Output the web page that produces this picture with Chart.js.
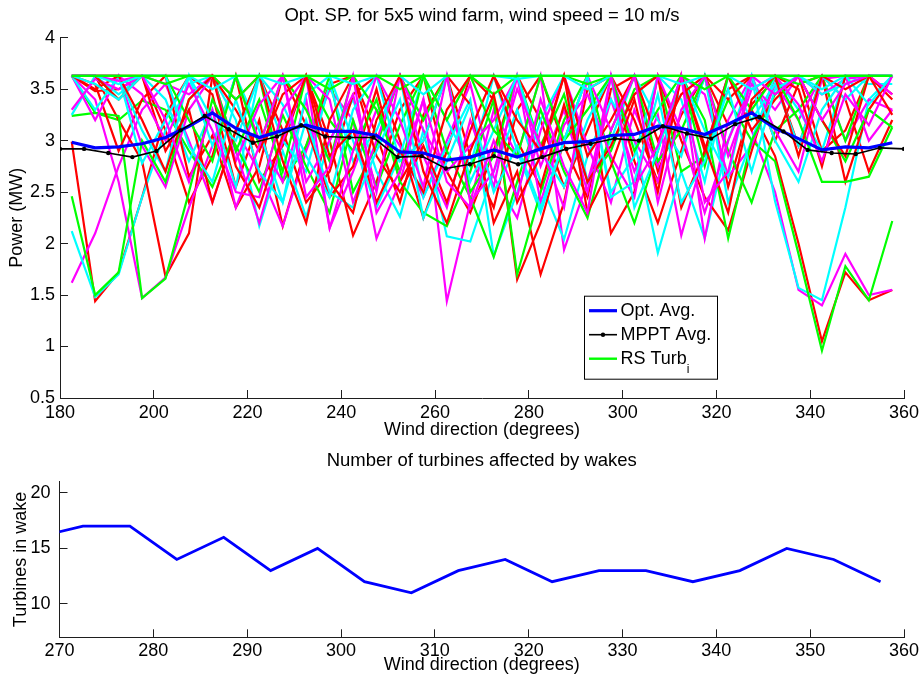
<!DOCTYPE html>
<html>
<head>
<meta charset="utf-8">
<title>Opt. SP. for 5x5 wind farm</title>
<script src="https://cdn.jsdelivr.net/npm/chart.js@4/dist/chart.umd.min.js"></script>
<style>
  html, body { margin: 0; padding: 0; background: #fff; }
  #wrap { position: relative; width: 923px; height: 683px; }
  #powerChart { position: absolute; left: 0; top: 0; }
  #wakeChart { position: absolute; left: 0; top: 440px; }
</style>
</head>
<body>
<div id="wrap">
  <canvas id="powerChart" width="923" height="440"></canvas>
  <canvas id="wakeChart" width="923" height="243"></canvas>
</div>
<script>
'use strict';

// wind directions (degrees)
const directions = [182.5, 187.5, 192.5, 197.5, 202.5, 207.5, 212.5, 217.5, 222.5, 227.5, 232.5, 237.5,
  242.5, 247.5, 252.5, 257.5, 262.5, 267.5, 272.5, 277.5, 282.5, 287.5, 292.5, 297.5,
  302.5, 307.5, 312.5, 317.5, 322.5, 327.5, 332.5, 337.5, 342.5, 347.5, 352.5, 357.5];
const mpptDirections = [180, 185.14, 190.29, 195.43, 200.57, 205.71, 210.86, 216, 221.14, 226.29, 231.43, 236.57,
  241.71, 246.86, 252, 257.14, 262.29, 267.43, 272.57, 277.71, 282.86, 288, 293.14, 298.29,
  303.43, 308.57, 313.71, 318.86, 324, 329.14, 334.29, 339.43, 344.57, 349.71, 354.86, 360];

// averages (MW)
const optAvg = [2.985, 2.93, 2.94, 2.97, 3.03, 3.14, 3.27, 3.12, 3.03, 3.10, 3.15, 3.09,
  3.09, 3.05, 2.89, 2.88, 2.81, 2.84, 2.91, 2.84, 2.92, 2.98, 2.99, 3.05,
  3.06, 3.14, 3.12, 3.06, 3.16, 3.27, 3.12, 3.02, 2.91, 2.94, 2.93, 2.98];
const mpptAvg = [2.92, 2.92, 2.88, 2.84, 2.90, 3.10, 3.24, 3.11, 2.98, 3.04, 3.15, 3.04,
  3.03, 3.03, 2.84, 2.85, 2.73, 2.77, 2.85, 2.77, 2.84, 2.92, 2.97, 3.02,
  3.00, 3.14, 3.07, 3.02, 3.16, 3.23, 3.09, 2.91, 2.88, 2.87, 2.93, 2.92];

// individual turbines (MW)
const turbR1 = [2.99, 1.44, 1.72, 2.45, 3.25, 3.63, 3.45, 2.55, 3.20, 2.17, 2.95, 3.55,
  3.63, 3.05, 2.40, 3.25, 3.63, 2.85, 2.35, 3.30, 3.63, 2.95, 2.45, 3.50,
  3.63, 2.70, 3.25, 3.63, 2.55, 3.35, 3.60, 2.95, 3.63, 3.40, 2.70, 3.20];
const turbR2 = [3.63, 3.48, 3.50, 3.63, 3.10, 2.40, 2.85, 3.63, 2.60, 2.95, 3.63, 3.00,
  2.08, 2.60, 3.30, 3.63, 2.70, 2.30, 2.90, 3.63, 3.20, 2.55, 3.10, 3.63,
  2.80, 2.20, 2.90, 3.63, 3.15, 3.30, 2.85, 2.00, 1.05, 1.72, 1.45, 1.55];
const turbR3 = [3.63, 3.63, 3.20, 2.80, 1.68, 2.10, 3.63, 3.40, 3.63, 3.10, 2.40, 2.70,
  3.45, 3.63, 3.00, 2.25, 2.90, 3.63, 3.40, 1.65, 2.20, 3.00, 3.63, 2.10,
  2.50, 3.63, 3.00, 2.45, 2.13, 2.90, 3.63, 3.63, 2.90, 3.10, 3.63, 3.45];
const turbR4 = [3.63, 3.55, 2.90, 3.40, 3.63, 2.65, 3.05, 2.35, 2.75, 3.63, 3.15, 2.45,
  2.75, 3.50, 2.60, 3.00, 3.63, 3.35, 2.20, 2.70, 1.70, 2.40, 3.50, 3.63,
  3.20, 2.60, 3.63, 2.90, 3.50, 3.63, 3.00, 3.55, 3.63, 2.60, 3.30, 3.63];
const turbR5 = [3.63, 3.63, 3.63, 3.20, 2.70, 3.40, 3.63, 2.75, 2.35, 3.05, 3.63, 2.60,
  2.30, 3.20, 3.63, 2.70, 2.20, 2.90, 3.45, 2.40, 2.85, 3.63, 2.30, 2.75,
  3.40, 2.50, 3.63, 2.95, 2.30, 3.40, 3.63, 2.85, 3.63, 3.50, 3.63, 3.25];
const turbR6 = [3.63, 3.50, 3.63, 3.63, 2.90, 3.30, 2.40, 3.10, 3.63, 2.80, 2.20, 3.20,
  3.63, 2.85, 2.50, 2.95, 2.40, 3.10, 3.63, 3.00, 2.55, 3.35, 2.60, 2.95,
  3.45, 3.63, 2.35, 2.90, 3.63, 3.10, 3.40, 3.63, 3.20, 2.85, 3.63, 3.40];
const turbR7 = [3.63, 3.63, 3.40, 3.63, 3.63, 3.63, 3.63, 3.30, 2.90, 3.45, 3.63, 2.85,
  3.10, 2.40, 2.90, 2.50, 3.30, 3.63, 3.63, 3.20, 2.90, 3.63, 2.85, 3.20,
  3.63, 3.00, 3.45, 3.63, 3.40, 3.63, 3.63, 3.50, 2.75, 3.63, 3.63, 3.63];
const turbM1 = [1.62, 2.10, 2.75, 3.30, 3.55, 3.00, 2.40, 3.10, 2.70, 2.17, 2.90, 3.50,
  3.20, 2.05, 2.60, 3.40, 1.44, 2.40, 3.30, 2.85, 3.63, 1.94, 2.60, 3.40,
  2.70, 3.25, 2.08, 2.90, 3.63, 3.10, 2.50, 1.55, 1.40, 1.90, 1.50, 1.55];
const turbM2 = [3.63, 3.40, 2.60, 1.47, 1.67, 2.35, 2.95, 3.63, 3.00, 2.60, 3.40, 2.15,
  2.70, 3.30, 2.95, 2.45, 3.00, 3.55, 2.65, 2.25, 3.10, 3.63, 2.95, 2.40,
  3.30, 2.75, 3.63, 3.45, 2.65, 2.95, 3.55, 3.20, 3.63, 3.00, 3.40, 3.30];
const turbM3 = [3.30, 3.60, 3.50, 3.63, 3.55, 3.45, 3.63, 2.80, 3.35, 3.63, 2.60, 3.00,
  3.45, 2.50, 3.63, 3.10, 2.70, 2.95, 3.20, 3.63, 2.40, 3.15, 3.45, 2.85,
  2.45, 3.63, 3.10, 2.30, 3.00, 3.55, 3.30, 3.63, 3.45, 3.60, 3.63, 3.45];
const turbM4 = [3.63, 3.63, 3.63, 3.45, 3.00, 3.55, 3.10, 2.50, 2.45, 3.30, 3.63, 2.15,
  2.90, 3.63, 3.20, 2.55, 3.63, 2.40, 2.70, 3.50, 2.95, 2.35, 3.63, 3.10,
  3.63, 2.40, 3.30, 3.63, 2.85, 3.50, 3.63, 3.35, 2.80, 3.45, 3.15, 3.63];
const turbM5 = [3.63, 3.63, 3.58, 3.63, 3.20, 2.60, 3.30, 2.35, 2.95, 3.63, 2.45, 2.75,
  3.63, 2.30, 2.70, 3.40, 2.60, 2.35, 3.00, 2.45, 3.40, 2.75, 2.30, 3.63,
  2.55, 2.95, 3.63, 2.40, 2.70, 3.63, 3.45, 3.63, 3.20, 3.55, 3.63, 3.63];
const turbM6 = [3.63, 3.20, 3.63, 2.95, 2.55, 3.30, 3.63, 2.90, 2.20, 3.00, 3.63, 3.40,
  2.40, 3.00, 3.63, 2.85, 2.35, 3.20, 2.55, 3.63, 2.75, 3.30, 2.50, 3.63,
  3.00, 2.60, 3.63, 2.05, 3.20, 3.63, 3.10, 2.70, 3.60, 3.63, 3.00, 3.30];
const turbC1 = [2.12, 1.48, 1.70, 2.45, 3.10, 3.55, 3.63, 3.20, 2.17, 2.90, 2.26, 3.00,
  3.40, 2.70, 2.26, 3.10, 2.07, 2.02, 2.70, 3.30, 2.60, 2.04, 2.85, 3.40,
  3.00, 1.91, 2.70, 2.05, 3.00, 3.63, 2.41, 1.57, 1.45, 2.35, 3.40, 3.63];
const turbC2 = [3.25, 3.63, 3.45, 3.63, 3.40, 2.80, 3.30, 2.55, 3.63, 3.00, 2.70, 3.55,
  2.80, 3.10, 3.63, 2.45, 2.95, 3.40, 1.88, 2.50, 3.20, 3.63, 2.60, 3.00,
  3.63, 3.20, 2.85, 3.63, 2.40, 3.00, 3.63, 3.30, 2.90, 3.63, 3.55, 3.55];
const turbC3 = [3.63, 3.30, 3.63, 3.10, 2.70, 3.63, 2.95, 3.63, 3.10, 2.40, 3.45, 3.63,
  3.00, 2.35, 2.85, 3.63, 3.20, 2.75, 3.63, 2.90, 2.30, 3.00, 3.63, 2.50,
  2.85, 3.63, 3.40, 2.60, 3.63, 3.20, 3.55, 2.95, 3.63, 3.40, 3.63, 3.63];
const turbC4 = [3.63, 3.55, 3.40, 3.63, 3.63, 2.95, 2.60, 3.40, 2.70, 2.40, 3.20, 2.50,
  2.35, 2.90, 3.40, 2.25, 2.80, 3.35, 2.50, 2.95, 2.35, 3.00, 3.63, 2.45,
  2.60, 3.45, 2.40, 2.80, 3.50, 2.70, 3.50, 3.63, 3.45, 3.55, 3.63, 3.63];
const turbC5 = [3.63, 3.63, 3.63, 2.78, 3.20, 3.63, 3.20, 3.00, 3.63, 3.35, 2.85, 2.45,
  3.30, 3.63, 2.80, 3.00, 3.63, 2.60, 3.10, 3.63, 2.90, 2.55, 3.20, 3.63,
  2.35, 2.90, 3.63, 3.10, 2.65, 3.63, 3.00, 2.60, 3.30, 3.63, 3.35, 3.63];
const turbC6 = [3.63, 3.63, 3.55, 3.63, 3.63, 3.63, 3.50, 3.63, 3.63, 3.55, 3.63, 3.63,
  3.55, 3.63, 3.63, 3.45, 3.63, 3.63, 3.63, 3.60, 3.63, 3.63, 3.50, 3.63,
  3.63, 3.63, 3.55, 3.63, 3.63, 3.50, 3.63, 3.63, 3.50, 3.63, 3.63, 3.63];
const turbG1 = [2.46, 1.50, 1.72, 3.00, 2.60, 3.40, 3.63, 2.90, 3.40, 2.70, 3.63, 3.20,
  2.90, 3.40, 2.60, 2.30, 2.17, 2.70, 3.40, 1.70, 2.50, 3.20, 3.63, 2.80,
  2.20, 2.90, 3.63, 3.20, 2.05, 3.00, 3.45, 3.63, 3.20, 2.80, 3.30, 3.13];
const turbG2 = [3.63, 3.27, 3.24, 1.47, 1.66, 2.50, 3.40, 2.95, 2.50, 3.25, 2.75, 2.30,
  3.20, 2.55, 3.15, 3.63, 2.90, 2.45, 1.87, 2.60, 3.30, 2.70, 2.25, 3.10,
  3.63, 2.80, 3.10, 3.63, 2.90, 2.40, 3.10, 3.30, 3.63, 3.00, 3.63, 3.63];
const turbG3 = [3.24, 3.27, 3.20, 3.39, 3.30, 2.90, 2.55, 3.10, 3.63, 2.60, 2.95, 3.63,
  2.50, 2.95, 3.63, 3.20, 3.63, 2.50, 2.85, 3.63, 2.95, 3.45, 2.60, 2.90,
  3.50, 3.63, 2.70, 2.85, 3.40, 3.00, 2.80, 1.90, 0.96, 1.78, 1.45, 2.22];
const turbG4 = [3.63, 3.63, 3.40, 3.63, 3.63, 3.20, 2.80, 3.63, 2.95, 3.63, 3.30, 2.80,
  3.63, 3.30, 2.70, 3.63, 3.20, 3.63, 3.10, 2.85, 3.63, 3.00, 3.30, 3.63,
  2.90, 3.30, 3.63, 2.75, 3.63, 3.30, 3.63, 3.20, 2.60, 2.60, 2.65, 3.13];
const turbG5 = [3.63, 3.63, 3.63, 3.63, 3.55, 3.63, 3.63, 3.40, 3.63, 3.63, 3.63, 3.50,
  3.63, 3.63, 3.50, 3.63, 3.63, 3.63, 3.45, 3.63, 3.63, 3.63, 3.55, 3.63,
  3.63, 3.63, 3.63, 3.50, 3.63, 3.63, 3.63, 3.55, 3.63, 3.63, 3.63, 3.63];
const turbG6 = [3.63, 3.63, 3.63, 3.63, 3.63, 3.63, 3.63, 3.63, 3.63, 3.63, 3.63, 3.63,
  3.63, 3.63, 3.63, 3.63, 3.63, 3.63, 3.63, 3.63, 3.63, 3.63, 3.63, 3.63,
  3.63, 3.63, 3.63, 3.63, 3.63, 3.63, 3.63, 3.63, 3.63, 3.63, 3.63, 3.63];

// drawing order: first in list ends up on top
const turbines = [turbG6, turbC6, turbM5, turbR5, turbG5, turbC4, turbM4, turbR7,
  turbG4, turbC5, turbM3, turbR6, turbG1, turbC3, turbM6, turbR4,
  turbG2, turbC2, turbM2, turbR3, turbG3, turbC1, turbM1, turbR2, turbR1];
const turbineColors = ['#00ff00', '#00ffff', '#ff00ff', '#ff0000', '#00ff00', '#00ffff', '#ff00ff', '#ff0000',
  '#00ff00', '#00ffff', '#ff00ff', '#ff0000', '#00ff00', '#00ffff', '#ff00ff', '#ff0000',
  '#00ff00', '#00ffff', '#ff00ff', '#ff0000', '#00ff00', '#00ffff', '#ff00ff', '#ff0000', '#ff0000'];

// wake subplot
const wakeDirections = [267.5, 272.5, 277.5, 282.5, 287.5, 292.5, 297.5, 302.5, 307.5, 312.5,
  317.5, 322.5, 327.5, 332.5, 337.5, 342.5, 347.5, 352.5, 357.5];
const wakeCount = [16, 17, 17, 14, 16, 13, 15, 12, 11, 13, 14, 12, 13, 13, 12, 13, 15, 14, 12];

// tick labels
const powerTicks = [0.5, 1, 1.5, 2, 2.5, 3, 3.5, 4];
const dirTicks = [180, 200, 220, 240, 260, 280, 300, 320, 340, 360];
const wakeDirTicks = [270, 280, 290, 300, 310, 320, 330, 340, 350, 360];
const wakeTicks = [10, 15, 20];

const legendLabels = ['Opt. Avg.', 'MPPT Avg.', 'RS Turb'];
const legendColors = ['#0000ff', '#000000', '#00ff00'];

const FONT = '"Liberation Sans", Arial, Helvetica, sans-serif';
const axisColor = '#1e1e1e';
Chart.defaults.font.family = FONT;
Chart.defaults.color = '#000';

function toPoints(xs, ys) {
  return xs.map((x, i) => {
    return { x: x, y: ys[i] };
  });
}

function axis(min, max, tickValues, label, isX, fitSize, tickPad, titlePad) {
  return {
    type: 'linear',
    min: min,
    max: max,
    afterBuildTicks: (scale) => {
      scale.ticks = tickValues.map((v) => ({ value: v }));
    },
    afterFit: (scale) => {
      if (isX) {
        scale.height = fitSize;
        // keep the plot edges fixed, the end labels may hang over
        scale.paddingLeft = 0;
        scale.paddingRight = 0;
      } else {
        scale.width = fitSize;
        scale.paddingTop = 0;
        scale.paddingBottom = 0;
      }
    },
    grid: {
      display: true,
      drawOnChartArea: false,
      drawTicks: true,
      tickLength: -8,
      color: axisColor,
      lineWidth: 1,
    },
    border: { display: true, color: axisColor, width: 1 },
    ticks: {
      autoSkip: false,
      maxRotation: 0,
      padding: tickPad,
      color: '#000',
      font: { size: 18, lineHeight: 1.2 },
      callback: (value) => String(value),
    },
    title: {
      display: true,
      text: label,
      color: '#000',
      font: { size: 18, lineHeight: 1 },
      padding: titlePad,
    },
  };
}

function plotTitle(text, padTop, padBottom) {
  return {
    display: true,
    text: text,
    fullSize: false,
    color: '#000',
    font: { size: 18.5, weight: 'normal', lineHeight: 1.2 },
    padding: { top: padTop, bottom: padBottom },
  };
}

// legend drawn inside the plot area, with the subscript on "Turb"
const legendBox = {
  id: 'legendBox',
  afterDatasetsDraw(chart) {
    const ctx = chart.ctx;
    const area = chart.chartArea;
    const left = area.left + 524;
    const top = area.top + 258;
    ctx.save();
    ctx.fillStyle = '#fff';
    ctx.fillRect(left, top, 134, 83);
    ctx.strokeStyle = '#000';
    ctx.lineWidth = 1;
    ctx.strokeRect(left + 0.5, top + 0.5, 133, 83);
    legendLabels.forEach((label, i) => {
      const y = top + 15 + i * 24;
      ctx.strokeStyle = legendColors[i];
      ctx.lineWidth = i === 0 ? 3.2 : i === 1 ? 1.6 : 2.4;
      ctx.beginPath();
      ctx.moveTo(left + 5, y);
      ctx.lineTo(left + 33, y);
      ctx.stroke();
      if (i === 1) {
        ctx.fillStyle = '#000';
        ctx.beginPath();
        ctx.arc(left + 19, y, 2.2, 0, Math.PI * 2);
        ctx.fill();
      }
      ctx.fillStyle = '#000';
      ctx.font = '18px ' + FONT;
      ctx.textBaseline = 'middle';
      ctx.textAlign = 'left';
      ctx.fillText(label, left + 36.5, y);
      if (i === 2) {
        const w = ctx.measureText(label).width;
        ctx.font = '12px ' + FONT;
        ctx.textBaseline = 'alphabetic';
        ctx.fillText('i', left + 36.5 + w, y + 14);
      }
    });
    ctx.restore();
  },
};

const powerDatasets = [
  {
    label: 'MPPT Avg.',
    data: toPoints(mpptDirections, mpptAvg),
    borderColor: '#000',
    backgroundColor: '#000',
    borderWidth: 1.6,
    pointRadius: 2.2,
    pointBorderWidth: 0,
  },
  {
    label: 'Opt. Avg.',
    data: toPoints(directions, optAvg),
    borderColor: '#0000ff',
    borderWidth: 3.2,
    pointRadius: 0,
  },
];
turbines.forEach((values, i) => {
  powerDatasets.push({
    label: 'RS Turb ' + (i + 1),
    data: toPoints(directions, values),
    borderColor: turbineColors[i],
    borderWidth: 2.2,
    pointRadius: 0,
  });
});

new Chart(document.getElementById('powerChart'), {
  type: 'line',
  data: { datasets: powerDatasets },
  options: {
    responsive: false,
    animation: false,
    events: [],
    layout: { padding: { left: 0, right: 19, top: 0, bottom: 0 } },
    plugins: {
      legend: { display: false },
      tooltip: { enabled: false },
      title: plotTitle('Opt. SP. for 5x5 wind farm, wind speed = 10 m/s', 5, 10.5),
    },
    scales: {
      x: axis(180, 360, dirTicks, 'Wind direction (degrees)', true, 42, 12.2, { top: 0, bottom: 1 }),
      y: axis(0.5, 4, powerTicks, 'Power (MW)', false, 60, 13, { top: 8, bottom: 0 }),
    },
  },
  plugins: [legendBox],
});

new Chart(document.getElementById('wakeChart'), {
  type: 'line',
  data: {
    datasets: [
      {
        label: 'Turbines in wake',
        data: toPoints(wakeDirections, wakeCount),
        borderColor: '#0000ff',
        borderWidth: 2.8,
        pointRadius: 0,
        clip: 0,
      },
    ],
  },
  options: {
    responsive: false,
    animation: false,
    events: [],
    layout: { padding: { left: 0, right: 19, top: 0, bottom: 0 } },
    plugins: {
      legend: { display: false },
      tooltip: { enabled: false },
      title: plotTitle('Number of turbines affected by wakes', 10, 9.5),
    },
    scales: {
      x: axis(270, 360, wakeDirTicks, 'Wind direction (degrees)', true, 45.7, 11.4, { top: 0, bottom: 9 }),
      y: axis(7, 21, wakeTicks, 'Turbines in wake', false, 59.5, 17, { top: 12, bottom: 0 }),
    },
  },
});
</script>
</body>
</html>
